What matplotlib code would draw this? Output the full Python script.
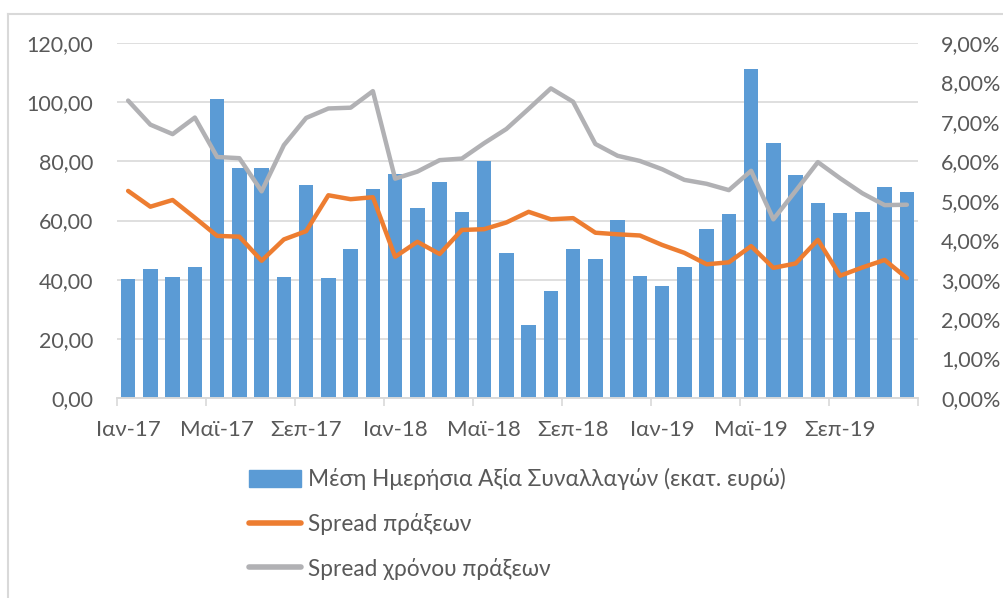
import matplotlib.pyplot as plt
from matplotlib.ticker import FuncFormatter, MultipleLocator
from matplotlib.lines import Line2D

plt.rcParams['font.family'] = ['Lato', 'DejaVu Sans']

# categories: monthly, Jan 2017 - Dec 2019
month_names = ['Ιαν', 'Φεβ', 'Μαρ', 'Απρ', 'Μαϊ', 'Ιουν',
               'Ιουλ', 'Αυγ', 'Σεπ', 'Οκτ', 'Νοε', 'Δεκ']
years = ['17', '18', '19']
months = [m + '-' + y for y in years for m in month_names]

# average daily traded value (mn euro)
avg_value = [40.1, 43.6, 40.9, 44.4, 101.0, 77.9, 77.6, 40.8, 72.1, 40.6, 50.3, 70.7,
             75.8, 64.3, 73.0, 62.9, 80.1, 48.9, 24.7, 36.2, 50.4, 46.9, 60.2, 41.4,
             37.9, 44.4, 57.1, 62.1, 111.1, 86.3, 75.3, 65.9, 62.7, 63.0, 71.2, 69.6]

# spread of trades (%)
spread = [5.25, 4.85, 5.02, 4.57, 4.11, 4.09, 3.48, 4.02, 4.23, 5.14, 5.04, 5.09,
          3.58, 3.96, 3.65, 4.26, 4.28, 4.45, 4.72, 4.53, 4.56, 4.19, 4.15, 4.12,
          3.88, 3.68, 3.39, 3.44, 3.85, 3.30, 3.41, 4.01, 3.10, 3.31, 3.50, 3.04]

# time-weighted spread (%)
spread_time = [7.54, 6.93, 6.69, 7.11, 6.11, 6.08, 5.24, 6.41, 7.10, 7.34, 7.36, 7.78,
               5.56, 5.74, 6.03, 6.07, 6.46, 6.82, 7.33, 7.85, 7.51, 6.44, 6.14, 6.01,
               5.80, 5.53, 5.43, 5.27, 5.76, 4.53, 5.25, 5.98, 5.57, 5.19, 4.89, 4.90]

label_bar = 'Μέση Ημερήσια Αξία Συναλλαγών (εκατ. ευρώ)'
label_spread = 'Spread πράξεων'
label_time = 'Spread χρόνου πράξεων'

blue = '#5B9BD5'
orange = '#ED7D31'
grey = '#B1B1B4'
grid_c = '#D9D9D9'
text_c = '#595959'

fig = plt.figure(figsize=(10.04, 5.98), dpi=100)
ax = fig.add_axes([117/1004, 1 - 398/598, (918 - 117)/1004, (398 - 43)/598])
ax2 = ax.twinx()

x = list(range(len(months)))
ax.bar(x, avg_value, width=0.66, color=blue, zorder=2)
ax2.plot(x, spread, color=orange, lw=3.2, solid_capstyle='round', solid_joinstyle='round')
ax2.plot(x, spread_time, color=grey, lw=3.2, solid_capstyle='round', solid_joinstyle='round')

ax.set_xlim(-0.5, len(months) - 0.5)
ax.set_ylim(0, 120)
ax2.set_ylim(0, 9)
ax.yaxis.set_major_locator(MultipleLocator(20))
ax2.yaxis.set_major_locator(MultipleLocator(1))
ax.yaxis.set_major_formatter(FuncFormatter(lambda v, p: f'{v:.2f}'.replace('.', ',')))
ax2.yaxis.set_major_formatter(FuncFormatter(lambda v, p: f'{v:.2f}'.replace('.', ',') + '%'))

ax.grid(axis='y', color=grid_c, lw=1.2, zorder=0)
ax.set_axisbelow(True)

# x axis: tick marks between groups of 4 months, labels every 4th month
ax.set_xticks([i - 0.5 for i in range(0, 33, 4)] + [35.5])
ax.set_xticks(x[::4], minor=True)
ax.set_xticklabels([])
ax.set_xticklabels(months[::4], minor=True)
ax.tick_params(axis='x', which='major', length=6, width=1.2, color=grid_c, direction='out')
ax.tick_params(axis='x', which='minor', length=0, pad=16, labelsize=16, labelcolor=text_c)
ax.tick_params(axis='y', length=0, pad=17, labelsize=15.5, labelcolor=text_c)
ax2.tick_params(axis='y', length=0, pad=16.5, labelsize=15.5, labelcolor=text_c)

for a in (ax, ax2):
    for s in ['top', 'left', 'right']:
        a.spines[s].set_visible(False)
    a.spines['bottom'].set_color(grid_c)
    a.spines['bottom'].set_linewidth(1.2)

handles = [plt.Rectangle((0, 0), 1, 1, color=blue),
           Line2D([0], [0], color=orange, lw=4, solid_capstyle='round'),
           Line2D([0], [0], color=grey, lw=4, solid_capstyle='round')]
leg = fig.legend(handles, [label_bar, label_spread, label_time], loc='upper center',
                 bbox_to_anchor=(0.515, 0.251), ncol=1, frameon=False, fontsize=16.3,
                 labelspacing=1.0, handlelength=2.3, handleheight=0.8, handletextpad=0.3)
for t in leg.get_texts():
    t.set_color(text_c)

# chart frame
fig.add_artist(Line2D([8/1004, 1], [1 - 14/598, 1 - 14/598], color=grid_c, lw=1.5))
fig.add_artist(Line2D([8/1004, 8/1004], [0, 1 - 14/598], color=grid_c, lw=1.5))

fig.savefig('out.png', dpi=100)
